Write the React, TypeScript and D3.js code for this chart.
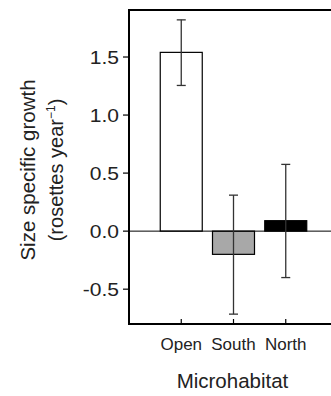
import React, { useEffect, useRef } from 'react';
import * as d3 from 'd3';

const habitats = ['Open', 'South', 'North'];
const means = [1.54, -0.2, 0.09];
const upper = [1.82, 0.31, 0.575];
const lower = [1.255, -0.715, -0.4];
const fills = ['#ffffff', '#a8a8a8', '#000000'];
const yTicks = [-0.5, 0, 0.5, 1.0, 1.5];

const W = 331;
const H = 396;

const App: React.FC = () => {
  const svgRef = useRef<SVGSVGElement | null>(null);

  useEffect(() => {
    const svg = d3.select(svgRef.current);
    svg.selectAll('*').remove();

    const left = 129;
    const top = 10;
    const bottom = 324;
    const right = 338; // frame runs past the crop

    const y = d3.scaleLinear().domain([-0.8, 1.905]).range([bottom, top]);
    const x = d3.scaleLinear().domain([0, 4]).range([left, right]);
    const barW = 42;
    const font = 'Liberation Sans, Arial, sans-serif';

    // bars
    svg
      .append('g')
      .selectAll('rect')
      .data(means)
      .enter()
      .append('rect')
      .attr('x', (_, i) => x(i + 1) - barW / 2)
      .attr('y', (d) => y(Math.max(d, 0)))
      .attr('width', barW)
      .attr('height', (d) => Math.abs(y(d) - y(0)))
      .attr('fill', (_, i) => fills[i])
      .attr('stroke', '#000')
      .attr('stroke-width', 1.2);

    // zero line
    svg
      .append('line')
      .attr('x1', left)
      .attr('x2', right)
      .attr('y1', y(0))
      .attr('y2', y(0))
      .attr('stroke', '#000')
      .attr('stroke-width', 1);

    // error bars
    const err = svg.append('g').attr('stroke', '#333').attr('stroke-width', 1.3);
    means.forEach((_, i) => {
      const cx = x(i + 1);
      err.append('line').attr('x1', cx).attr('x2', cx).attr('y1', y(upper[i])).attr('y2', y(lower[i]));
      [upper[i], lower[i]].forEach((v) => {
        err
          .append('line')
          .attr('x1', cx - 4.5)
          .attr('x2', cx + 4.5)
          .attr('y1', y(v))
          .attr('y2', y(v));
      });
    });

    // frame
    svg
      .append('path')
      .attr('d', `M${right},${top}H${left}V${bottom}H${right}`)
      .attr('fill', 'none')
      .attr('stroke', '#000')
      .attr('stroke-width', 2);

    // y axis ticks + labels (labels a bit wide in the original)
    const yg = svg.append('g');
    yTicks.forEach((t) => {
      yg.append('line')
        .attr('x1', left - 6)
        .attr('x2', left)
        .attr('y1', y(t))
        .attr('y2', y(t))
        .attr('stroke', '#000')
        .attr('stroke-width', 1.2);
      yg.append('text')
        .attr('transform', `translate(${left - 10},${y(t)}) scale(1.17,1)`)
        .attr('dy', '0.36em')
        .attr('text-anchor', 'end')
        .attr('font-family', font)
        .attr('font-size', 18)
        .attr('fill', '#222')
        .text(d3.format('.1f')(t).replace('\u2212', '-'));
    });

    // x ticks (inside) + labels
    const xg = svg.append('g');
    habitats.forEach((h, i) => {
      const cx = x(i + 1);
      xg.append('line')
        .attr('x1', cx)
        .attr('x2', cx)
        .attr('y1', bottom)
        .attr('y2', bottom - 5)
        .attr('stroke', '#000')
        .attr('stroke-width', 1.2);
      xg.append('text')
        .attr('x', cx)
        .attr('y', 350)
        .attr('text-anchor', 'middle')
        .attr('font-family', font)
        .attr('font-size', 17)
        .attr('fill', '#222')
        .text(h);
    });

    // x title
    svg
      .append('text')
      .attr('x', 232.5)
      .attr('y', 388)
      .attr('text-anchor', 'middle')
      .attr('font-family', font)
      .attr('font-size', 20.5)
      .attr('fill', '#222')
      .text('Microhabitat');

    // y title
    const yt = svg
      .append('text')
      .attr('transform', 'translate(0,170) rotate(-90)')
      .attr('text-anchor', 'middle')
      .attr('font-family', font)
      .attr('fill', '#222');
    yt.append('tspan').attr('x', 0).attr('y', 35).attr('font-size', 20.5).text('Size specific growth');
    const l2 = yt.append('tspan').attr('x', 0).attr('y', 63).attr('font-size', 20);
    l2.append('tspan').text('(rosettes year');
    l2.append('tspan').attr('font-size', 12).attr('dy', -8).text('\u22121');
    l2.append('tspan').attr('dy', 8).text(')');
  }, []);

  return (
    <svg
      ref={svgRef}
      width={W}
      height={H}
      style={{ position: 'absolute', left: 0, top: 0, background: '#fff' }}
    />
  );
};

export default App;
